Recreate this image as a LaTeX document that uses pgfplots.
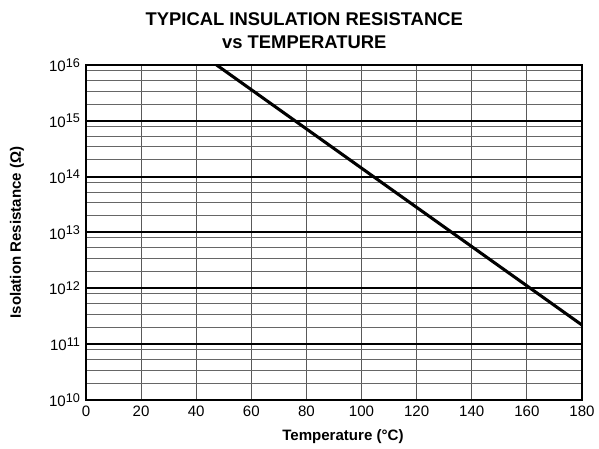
\documentclass[border=0pt]{standalone}
\usepackage{pgfplots}
\pgfplotsset{compat=1.18}
\usepackage{fontspec}
\setmainfont{Liberation Sans}
\newcommand{\tp}[1]{10\raisebox{0.55ex}{\fontsize{9.5}{9.5}\selectfont #1}}
\begin{document}
\begin{tikzpicture}[x=0.75pt,y=0.75pt]
\path[use as bounding box] (-86,-49) rectangle (513,400);
\begin{axis}[
  scale only axis,
  width=372pt, height=251.25pt,
  at={(0,0)}, anchor=south west,
  ymode=log,
  xmin=0, xmax=180, ymin=1e10, ymax=1e16,
  xtick={0,20,...,180},
  ytick={1e10,1e11,1e12,1e13,1e14,1e15,1e16},
  yticklabels={\tp{10},\tp{11},\tp{12},\tp{13},\tp{14},\tp{15},\tp{16}},
  /pgf/number format/assume math mode=true,
  minor ytick={2e10,3.4e10,5.3e10,8e10,2e11,3.4e11,5.3e11,8e11,2e12,3.4e12,5.3e12,8e12,2e13,3.4e13,5.3e13,8e13,2e14,3.4e14,5.3e14,8e14,2e15,3.4e15,5.3e15,8e15},
  tick style={draw=none},
  xmajorgrids, ymajorgrids, yminorgrids,
  x grid style={black!65, line width=0.8pt},
  y grid style={black, line width=1.5pt},
  minor y grid style={black!60, line width=0.75pt},
  axis line style={black, line width=1.8pt},
  tick label style={font=\fontsize{11.3}{13}\selectfont},
  xticklabel style={yshift=-1pt},
  yticklabel style={xshift=-1pt},
  xlabel={\textbf{Temperature (°C)}},
  ylabel={\textbf{Isolation Resistance (Ω)}},
  label style={font=\fontsize{11.3}{13}\selectfont},
  xlabel style={at={(axis description cs:0.518,-0.11)}, anchor=center},
  ylabel style={at={(axis description cs:-0.139,0.5)}, anchor=center},
  title={\textbf{TYPICAL INSULATION RESISTANCE}\\\textbf{vs TEMPERATURE}},
  title style={font=\fontsize{13.8}{17}\selectfont, align=center, at={(axis description cs:0.44,1.078)}, anchor=center},
]
\addplot[black, line width=2.3pt] coordinates {(47.4,1e16) (180,2.2e11)};
\end{axis}
\end{tikzpicture}
\end{document}
